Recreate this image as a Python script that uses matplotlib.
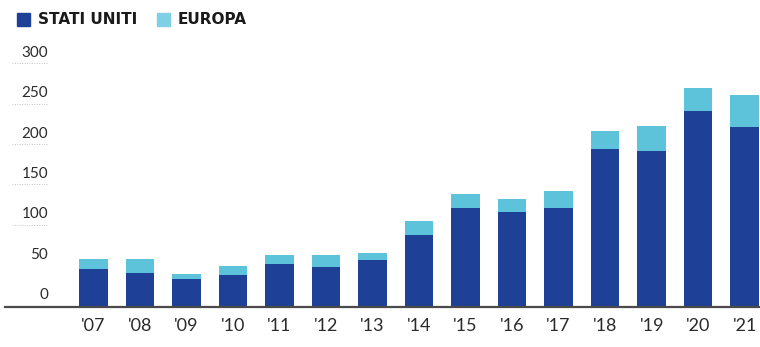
import matplotlib

matplotlib.use("Agg")
import matplotlib.pyplot as plt
from matplotlib import transforms
from matplotlib.patches import Rectangle

# values
years = ["'07", "'08", "'09", "'10", "'11", "'12", "'13", "'14",
         "'15", "'16", "'17", "'18", "'19", "'20", "'21"]
stati_uniti = [47, 42, 35, 40, 53, 50, 58, 89, 123, 118, 123, 196, 194, 243, 223]
europa = [13, 18, 6, 11, 11, 14, 9, 18, 17, 16, 21, 22, 30, 28, 40]
y_ticks = [0, 50, 100, 150, 200, 250, 300]

US_BLUE = "#1e4096"
EU_CYAN = "#5cc3db"
INK = "#2b2b2b"

W, H = 760, 347
fig = plt.figure(figsize=(W / 100, H / 100), dpi=100)
fig.patch.set_facecolor("white")

# axis area: baseline at 307 px from top, 300 at 65 px from top
ax = fig.add_axes([0, (H - 307) / H, 1, 242 / H])
ax.set_xlim(-2.01, 14.33)
ax.set_ylim(0, 300)
for s in ax.spines.values():
    s.set_visible(False)
ax.set_yticks([])

x = list(range(len(years)))
ax.bar(x, stati_uniti, width=0.61, color=US_BLUE, zorder=2)
ax.bar(x, europa, width=0.61, bottom=stati_uniti, color=EU_CYAN, zorder=2)

ax.set_xticks(x)
ax.set_xticklabels(years, fontsize=13, color=INK, family="Lato")
ax.tick_params(axis="x", length=0, pad=8)

# baseline
ax.axhline(0, xmin=5 / W, xmax=1, color="#4a4a4a", lw=1.6, zorder=3, clip_on=False)

# y labels sit just above their level, right-aligned near the left edge
tr = transforms.blended_transform_factory(fig.transFigure, ax.transData)
for v in y_ticks:
    ax.text(48 / W, v + 6, str(v), transform=tr, ha="right", va="bottom",
            fontsize=11, color=INK, family="Lato")
    if v >= 100:
        ax.plot([12 / W, 48 / W], [v + 2, v + 2], transform=tr, color="#c4c4c4",
                lw=0.7, ls=(0, (1, 1.5)), clip_on=False)

# legend
def legend_item(x0, label, color):
    fig.patches.append(Rectangle((x0 / W, (H - 26) / H), 13 / W, 13 / H,
                                 transform=fig.transFigure, color=color))
    fig.text((x0 + 21) / W, (H - 19.5) / H, label, ha="left", va="center",
             fontsize=11, fontweight="bold", color="#1a1a1a", family="DejaVu Sans")

legend_item(17, "STATI UNITI", US_BLUE)
legend_item(157, "EUROPA", "#7fd0e2")

fig.savefig("out.png", dpi=100, facecolor="white")
